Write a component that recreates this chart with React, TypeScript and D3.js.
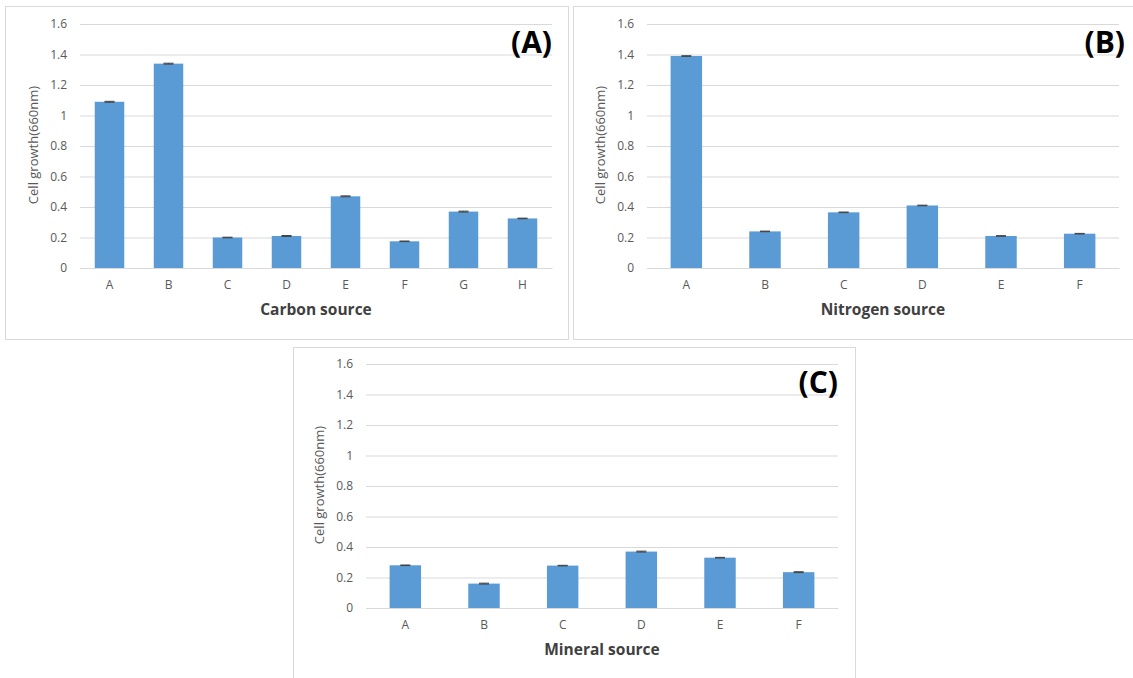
import { useEffect, useRef } from 'react';
import * as d3 from 'd3';

// Data
const yTicks = [0, 0.2, 0.4, 0.6, 0.8, 1, 1.2, 1.4, 1.6];

const carbonCats = ['A', 'B', 'C', 'D', 'E', 'F', 'G', 'H'];
const carbonValues = [1.09, 1.34, 0.2, 0.21, 0.47, 0.175, 0.37, 0.325];
const carbonErrors = [0.003, 0.003, 0.002, 0.003, 0.003, 0.002, 0.003, 0.002];

const nitrogenCats = ['A', 'B', 'C', 'D', 'E', 'F'];
const nitrogenValues = [1.39, 0.24, 0.365, 0.41, 0.21, 0.225];
const nitrogenErrors = [0.002, 0.002, 0.002, 0.002, 0.002, 0.002];

const mineralCats = ['A', 'B', 'C', 'D', 'E', 'F'];
const mineralValues = [0.28, 0.16, 0.278, 0.37, 0.33, 0.235];
const mineralErrors = [0.002, 0.003, 0.002, 0.003, 0.002, 0.003];

const FONT = '"Open Sans", Lato, sans-serif';

type Panel = {
    label: string;
    title: string;
    cats: string[];
    values: number[];
    errors: number[];
    box: { x: number; y: number; w: number; h: number };
    plot: { left: number; right: number; top: number; bottom: number };
    padding: number;
};

const panels: Panel[] = [
    {
        label: '(A)', title: 'Carbon source',
        cats: carbonCats, values: carbonValues, errors: carbonErrors,
        box: { x: 5.5, y: 6.5, w: 563, h: 333 },
        plot: { left: 80, right: 552, top: 24, bottom: 268 },
        padding: 0.5
    },
    {
        label: '(B)', title: 'Nitrogen source',
        cats: nitrogenCats, values: nitrogenValues, errors: nitrogenErrors,
        box: { x: 573.5, y: 6.5, w: 600, h: 333 },
        plot: { left: 647, right: 1119, top: 24, bottom: 268 },
        padding: 0.6
    },
    {
        label: '(C)', title: 'Mineral source',
        cats: mineralCats, values: mineralValues, errors: mineralErrors,
        box: { x: 293.5, y: 347.5, w: 562, h: 360 },
        plot: { left: 366, right: 838, top: 364, bottom: 608 },
        padding: 0.6
    }
];

export default function App() {
    const svgRef = useRef<SVGSVGElement>(null);

    useEffect(() => {
        if (!svgRef.current) return;
        const svg = d3.select(svgRef.current);
        svg.selectAll('*').remove();

        svg.append('rect')
            .attr('width', 1133).attr('height', 678)
            .attr('fill', '#fff');

        panels.forEach(p => {
            const g = svg.append('g');

            // frame
            g.append('rect')
                .attr('x', p.box.x).attr('y', p.box.y)
                .attr('width', p.box.w).attr('height', p.box.h)
                .attr('fill', '#fff')
                .attr('stroke', '#d9d9d9')
                .attr('stroke-width', 1);

            const x = d3.scaleBand()
                .domain(p.cats)
                .range([p.plot.left, p.plot.right])
                .paddingInner(p.padding)
                .paddingOuter(p.padding / 2);

            const y = d3.scaleLinear()
                .domain([0, 1.6])
                .range([p.plot.bottom, p.plot.top]);

            // grid lines
            g.append('g')
                .attr('transform', `translate(${p.plot.left},0)`)
                .call(d3.axisLeft(y)
                    .tickValues(yTicks)
                    .tickSize(-(p.plot.right - p.plot.left))
                    .tickFormat(() => ''))
                .call(a => a.select('.domain').remove())
                .call(a => a.selectAll('line').attr('stroke', '#d9d9d9').attr('stroke-width', 1));

            // y tick labels
            g.append('g')
                .attr('transform', `translate(${p.plot.left - 8},0)`)
                .call(d3.axisLeft(y)
                    .tickValues(yTicks)
                    .tickSize(0)
                    .tickPadding(5)
                    .tickFormat(d => d3.format('')(+d)))
                .call(a => a.select('.domain').remove())
                .call(a => a.selectAll('text')
                    .attr('fill', '#595959')
                    .style('font-family', FONT)
                    .style('font-size', '12px'));

            // x axis
            g.append('g')
                .attr('transform', `translate(0,${p.plot.bottom})`)
                .call(d3.axisBottom(x).tickSize(0).tickPadding(12))
                .call(a => a.select('.domain').attr('stroke', '#d9d9d9'))
                .call(a => a.selectAll('text')
                    .attr('fill', '#595959')
                    .style('font-family', FONT)
                    .style('font-size', '12px'));

            // bars
            g.selectAll('.bar')
                .data(p.values)
                .enter().append('rect')
                .attr('x', (_, i) => x(p.cats[i])!)
                .attr('y', d => y(d))
                .attr('width', x.bandwidth())
                .attr('height', d => p.plot.bottom - y(d))
                .attr('fill', '#5b9bd5');

            // error bars
            const cap = 5;
            p.values.forEach((v, i) => {
                const cx = x(p.cats[i])! + x.bandwidth() / 2;
                const e = p.errors[i];
                g.append('line')
                    .attr('x1', cx).attr('x2', cx)
                    .attr('y1', y(v - e)).attr('y2', y(v + e))
                    .attr('stroke', '#404040').attr('stroke-width', 1);
                [v - e, v + e].forEach(yy => {
                    g.append('line')
                        .attr('x1', cx - cap).attr('x2', cx + cap)
                        .attr('y1', y(yy)).attr('y2', y(yy))
                        .attr('stroke', '#404040').attr('stroke-width', 1);
                });
            });

            // axis titles
            const midX = (p.plot.left + p.plot.right) / 2;
            g.append('text')
                .attr('x', midX)
                .attr('y', p.plot.bottom + 47)
                .attr('text-anchor', 'middle')
                .style('font-family', FONT)
                .style('font-size', '15.5px')
                .style('font-weight', 'bold')
                .attr('fill', '#404040')
                .text(p.title);

            g.append('text')
                .attr('transform', `translate(${p.plot.left - 42},${(p.plot.top + p.plot.bottom) / 2 - 1}) rotate(-90)`)
                .attr('text-anchor', 'middle')
                .style('font-family', FONT)
                .style('font-size', '13px')
                .attr('fill', '#595959')
                .text('Cell growth(660nm)');

            // panel label
            g.append('text')
                .attr('x', p.label === '(B)' ? p.plot.right + 6 : p.plot.right)
                .attr('y', p.plot.top + 29)
                .attr('text-anchor', 'end')
                .style('font-family', FONT)
                .style('font-size', '30px')
                .style('font-weight', 'bold')
                .attr('fill', '#000')
                .text(p.label);
        });
    }, []);

    return (
        <div style={{ position: 'absolute', left: 0, top: 0 }}>
            <svg ref={svgRef} width={1133} height={678} style={{ display: 'block' }} />
        </div>
    );
}
